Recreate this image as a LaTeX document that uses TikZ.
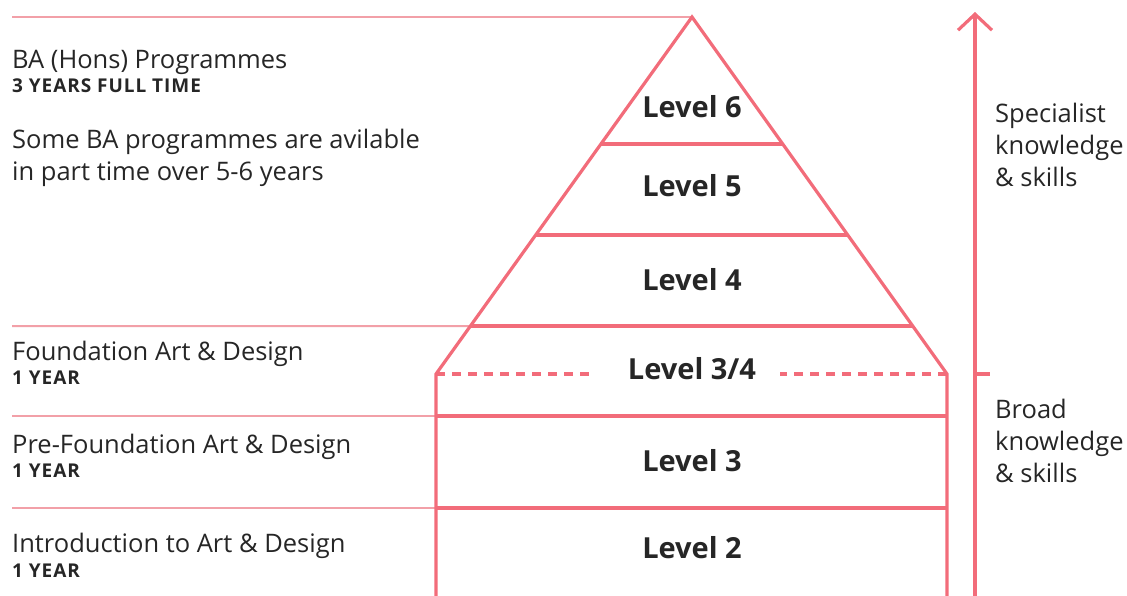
\documentclass[tikz,border=0pt]{standalone}
\usepackage{fontspec}
\setmainfont{Open Sans}
\usetikzlibrary{positioning,calc,arrows.meta}
\definecolor{coral}{RGB}{242,108,122}
\definecolor{rulepink}{RGB}{242,160,168}
\definecolor{ink}{RGB}{38,38,38}

\begin{document}
\begin{tikzpicture}[x=1pt, y=-1pt,
    pyr/.style={draw=coral, line width=3.2pt},
    guide/.style={draw=rulepink, line width=2pt},
    lvl/.style={text=ink, inner sep=0pt, font=\fontsize{29}{34}\selectfont\bfseries},
    prog/.style={text=ink, anchor=base west, align=left, inner sep=0pt,
                 font=\fontsize{25.5}{32}\selectfont},
    dur/.style={text=ink, anchor=base west, inner sep=0pt,
                font=\fontsize{19}{22}\selectfont\bfseries\addfontfeatures{LetterSpace=5}}
  ]
  \useasboundingbox (0,0) rectangle (1127,595);

  % pyramid corners
  \coordinate (apex)  at (692,17);
  \coordinate (baseL) at (436,374);
  \coordinate (baseR) at (947,374);
  \coordinate (footL) at (436,600);
  \coordinate (footR) at (947,600);
  \coordinate (l6L) at ($(apex)!127/357!(baseL)$);
  \coordinate (l6R) at ($(apex)!127/357!(baseR)$);
  \coordinate (l5L) at ($(apex)!218/357!(baseL)$);
  \coordinate (l5R) at ($(apex)!218/357!(baseR)$);
  \coordinate (l4L) at ($(apex)!309/357!(baseL)$);
  \coordinate (l4R) at ($(apex)!309/357!(baseR)$);
  \coordinate (l3L) at (436,416);
  \coordinate (l3R) at (947,416);
  \coordinate (l2L) at (436,508);
  \coordinate (l2R) at (947,508);

  % guide lines to the programmes
  \coordinate (g1) at (12,17);
  \coordinate (g2) at (12,326);
  \coordinate (g3) at (12,416);
  \coordinate (g4) at (12,508);
  \draw[guide] (g1) -- (apex);
  \draw[guide] (g2) -- (l4L);
  \draw[guide] (g3) -- (l3L);
  \draw[guide] (g4) -- (l2L);

  % levels
  \node[lvl] (lv6)  at (692,107) {Level 6};
  \node[lvl] (lv5)  at (692,186) {Level 5};
  \node[lvl] (lv4)  at (692,280) {Level 4};
  \node[lvl] (lv34) at (692,369) {Level 3/4};
  \node[lvl] (lv3)  at (692,461) {Level 3};
  \node[lvl] (lv2)  at (692,548) {Level 2};

  \draw[pyr, line join=miter] (footL) -- (baseL) -- (apex) -- (baseR) -- (footR);
  \draw[pyr] (l6L) -- (l6R);
  \draw[pyr] (l5L) -- (l5R);
  \draw[pyr] (l4L) -- (l4R);
  \draw[pyr] (l3L) -- (l3R);
  \draw[pyr] (l2L) -- (l2R);
  \coordinate (dashA) at (590,374);
  \coordinate (dashB) at (780,374);
  \draw[pyr, dash pattern=on 9pt off 7pt] (baseL) -- (dashA);
  \draw[pyr, dash pattern=on 9pt off 7pt] (baseR) -- (dashB);

  % programmes
  \node[prog] (ba)      at (12,68)  {BA (Hons) Programmes};
  \node[dur]  (baDur)   at (12,92)  {3 YEARS FULL TIME};
  \node[prog] (baPart)  at (12,180) {Some BA programmes are avilable\\in part time over 5-6 years};
  \node[prog] (found)   at (12,360) {Foundation Art \& Design};
  \node[dur]  (foundDur) at (12,384) {1 YEAR};
  \node[prog] (pre)     at (12,453) {Pre-Foundation Art \& Design};
  \node[dur]  (preDur)  at (12,477) {1 YEAR};
  \node[prog] (intro)   at (12,552) {Introduction to Art \& Design};
  \node[dur]  (introDur) at (12,577) {1 YEAR};

  % knowledge arrow
  \coordinate (arrFoot) at (975,600);
  \coordinate (arrTip)  at (975,12);
  \coordinate (tickA)   at (975,374);
  \coordinate (tickB)   at (990,374);
  \draw[pyr, -{Straight Barb[length=16pt,width=34pt]}] (arrFoot) -- (arrTip);
  \draw[pyr] (tickA) -- (tickB);
  \node[prog] (spec)  at (995,186) {Specialist\\knowledge\\\& skills};
  \node[prog] (broad) at (995,482) {Broad\\knowledge\\\& skills};
\end{tikzpicture}
\end{document}
